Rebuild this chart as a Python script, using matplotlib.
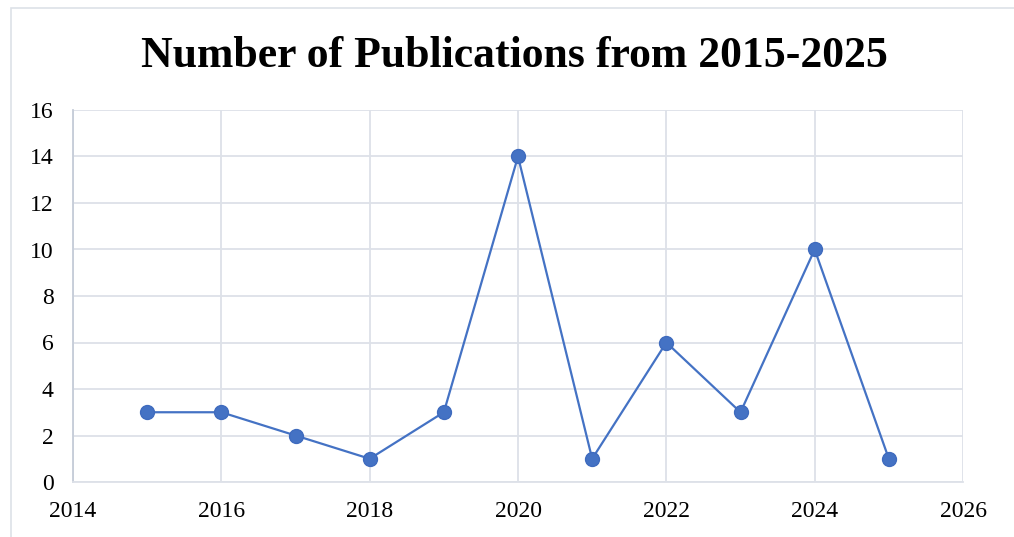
import matplotlib
matplotlib.use("Agg")
import matplotlib.pyplot as plt
from matplotlib.patches import Rectangle

years = [2015, 2016, 2017, 2018, 2019, 2020, 2021, 2022, 2023, 2024, 2025]
counts = [3, 3, 2, 1, 3, 14, 1, 6, 3, 10, 1]
x_ticks = [2014, 2016, 2018, 2020, 2022, 2024, 2026]
y_ticks = [0, 2, 4, 6, 8, 10, 12, 14, 16]
title = "Number of Publications from 2015-2025"

plt.rcParams['font.family'] = ['Liberation Serif', 'DejaVu Serif']

W, H = 1014, 537
fig = plt.figure(figsize=(W / 100, H / 100), dpi=100)
fig.patch.set_facecolor('white')

# outer chart border
fig.add_artist(Rectangle((11 / W, -0.1), 1.2, (537 - 8) / H + 0.1,
                         transform=fig.transFigure, fill=False,
                         edgecolor='#DDE1E8', linewidth=1.2))

ax = fig.add_axes([73 / W, (537 - 482) / H, (963 - 73) / W, (482 - 110) / H])
grid_c = '#DDE1E8'
ax.plot(years, counts, color='#4472C4', linewidth=1.6, marker='o',
        markersize=10, markerfacecolor='#4472C4', markeredgecolor='#3F6BBE',
        zorder=3, clip_on=False)
ax.set_xlim(2014, 2026)
ax.set_ylim(0, 16)
ax.set_xticks(x_ticks)
ax.set_yticks(y_ticks)
ax.grid(True, color=grid_c, linewidth=1.3)
ax.set_axisbelow(True)
for s in ['top', 'right']:
    ax.spines[s].set_visible(False)
ax.spines['bottom'].set_color(grid_c)
ax.spines['bottom'].set_linewidth(1.3)
ax.spines['left'].set_color('#C5CCD8')
ax.spines['left'].set_linewidth(1.3)
ax.tick_params(length=0, labelsize=17, colors='black')
ax.tick_params(axis='x', pad=14)
ax.tick_params(axis='y', pad=14)

fig.text(514 / W, 1 - 67 / H, title, ha='center', va='baseline',
         fontsize=31.5, fontweight='bold')

fig.savefig('out.png', dpi=100, facecolor='white')
